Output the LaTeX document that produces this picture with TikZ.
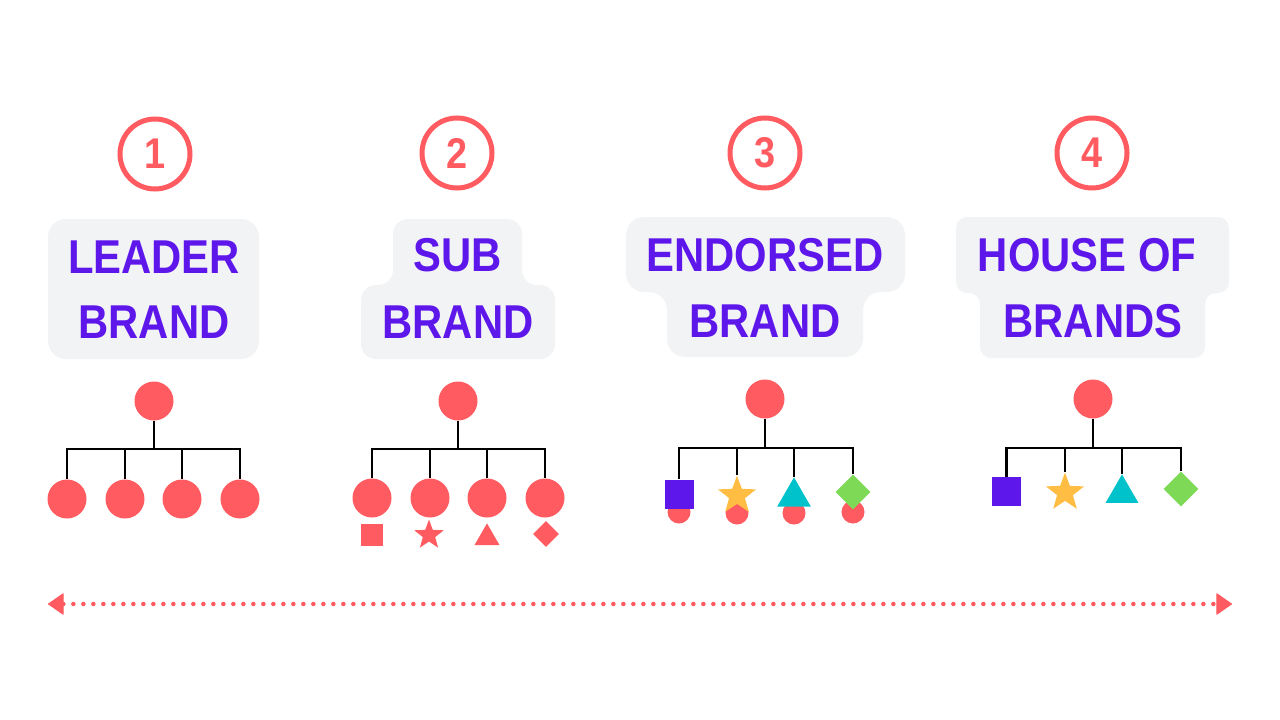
\documentclass[tikz,border=0pt]{standalone}
\usepackage{fontspec}
\usetikzlibrary{shapes.geometric,arrows.meta}
\newfontfamily\lblfont[FakeStretch=0.88]{Liberation Sans}
\definecolor{coral}{HTML}{FF5B60}
\definecolor{brandpurple}{HTML}{5E17EB}
\definecolor{boxgray}{HTML}{F2F3F5}
\definecolor{staryellow}{HTML}{FFBD43}
\definecolor{tealc}{HTML}{00C2CB}
\definecolor{greenc}{HTML}{7ED957}
\tikzset{
  numcirc/.style={circle, draw=coral, line width=5pt, minimum size=70pt, inner sep=0pt, text=coral,
    font=\lblfont\bfseries\fontsize{43}{43}\selectfont},
  lbl/.style={anchor=base, inner sep=0pt, text=brandpurple,
    font=\lblfont\bfseries\fontsize{47.5}{47.5}\selectfont},
  boxfill/.style={fill=boxgray},
  dot/.style={circle, fill=coral, minimum size=39pt, inner sep=0pt},
  smalldot/.style={circle, fill=coral, minimum size=23pt, inner sep=0pt},
  tree/.style={draw=black, line width=2.8pt},
  sq/.style={rectangle, minimum size=#1, inner sep=0pt},
  starshape/.style={star, star points=5, star point ratio=2.4, minimum size=#1, inner sep=0pt, anchor=north},
  tri/.style={regular polygon, regular polygon sides=3, minimum size=#1, inner sep=0pt, anchor=north},
  dia/.style={diamond, minimum size=#1, inner sep=0pt},
  dotline/.style={draw=coral, line width=4.5pt, line cap=round, dash pattern=on 0pt off 10pt,
    {Triangle[length=16pt,width=22pt,round,line width=1pt]}-{Triangle[length=16pt,width=22pt,round,line width=1pt]}}
}
\begin{document}
\begin{tikzpicture}[x=1pt,y=-1pt]
\useasboundingbox (0,0) rectangle (1280,720);

% number circles
\node[numcirc] (n1) at (155,154) {1};
\node[numcirc] (n2) at (457,153) {2};
\node[numcirc] (n3) at (765,153) {3};
\node[numcirc] (n4) at (1092,153) {4};

% label boxes
\fill[boxfill, rounded corners=18pt] (48,219) rectangle (259,359);
\fill[boxfill, rounded corners=15pt] (393,219) -- (522,219) -- (522,285) -- (555,285) -- (555,359)
  -- (361,359) -- (361,285) -- (393,285) -- cycle;
\fill[boxfill, rounded corners=18pt] (626,217) -- (905,217) -- (905,292) -- (863,292) -- (863,357)
  -- (667,357) -- (667,292) -- (626,292) -- cycle;
\fill[boxfill, rounded corners=11pt] (956,217) -- (1229,217) -- (1229,293) -- (1205,293) -- (1205,358)
  -- (980,358) -- (980,293) -- (956,293) -- cycle;

% labels
\node[lbl] (t1a) at (154,273) {LEADER};
\node[lbl] (t1b) at (154,338) {BRAND};
\node[lbl] (t2a) at (458,271) {SUB};
\node[lbl] (t2b) at (458,338) {BRAND};
\node[lbl] (t3a) at (765,271) {ENDORSED};
\node[lbl] (t3b) at (765,337) {BRAND};
\node[lbl] (t4a) at (1087,271) {HOUSE OF};
\node[lbl] (t4b) at (1093,337) {BRANDS};

% ---- column 1
\node[dot] (r1) at (154,401) {};
\node[dot] (c11) at (67,499) {};
\node[dot] (c12) at (125,499) {};
\node[dot] (c13) at (182,499) {};
\node[dot] (c14) at (240,499) {};
\coordinate (bus1) at (154,449);
\draw[tree] (r1) -- (bus1);
\draw[tree] (c11.north) |- (c14.north |- bus1) -- (c14.north);
\draw[tree] (c12.north) -- (c12.north |- bus1);
\draw[tree] (c13.north) -- (c13.north |- bus1);

% ---- column 2
\node[dot] (r2) at (458,401) {};
\node[dot] (c21) at (372,498) {};
\node[dot] (c22) at (430,498) {};
\node[dot] (c23) at (487,498) {};
\node[dot] (c24) at (545,498) {};
\coordinate (bus2) at (458,449);
\draw[tree] (r2) -- (bus2);
\draw[tree] (c21.north) |- (c24.north |- bus2) -- (c24.north);
\draw[tree] (c22.north) -- (c22.north |- bus2);
\draw[tree] (c23.north) -- (c23.north |- bus2);
\node[sq=22pt, fill=coral] (s21) at (372,535) {};
\node[starshape=31pt, fill=coral] (s22) at (429,519) {};
\node[tri=29pt, fill=coral] (s23) at (487,523) {};
\node[dia=26pt, fill=coral] (s24) at (546,534) {};

% ---- column 3
\node[dot] (r3) at (765,399) {};
\node[smalldot] (d31) at (679,512) {};
\node[smalldot] (d32) at (737,513) {};
\node[smalldot] (d33) at (794,513) {};
\node[smalldot] (d34) at (853,512) {};
\node[sq=29pt, fill=brandpurple] (c31) at (679,494) {};
\node[starshape=40pt, fill=staryellow] (c32) at (737,475) {};
\node[tri=39pt, fill=tealc] (c33) at (794,477) {};
\node[dia=35pt, fill=greenc] (c34) at (853,492) {};
\coordinate (bus3) at (765,448);
\draw[tree] (r3) -- (bus3);
\draw[tree] (c31.north) |- (c34.north |- bus3) -- (c34.north);
\draw[tree] (c32.north) -- (c32.north |- bus3);
\draw[tree] (c33.north) -- (c33.north |- bus3);

% ---- column 4
\node[dot] (r4) at (1093,399) {};
\node[sq=29pt, fill=brandpurple] (c41) at (1006.5,491.5) {};
\node[starshape=40pt, fill=staryellow] (c42) at (1065,472) {};
\node[tri=38pt, fill=tealc] (c43) at (1122,474) {};
\node[dia=35pt, fill=greenc] (c44) at (1181,489) {};
\coordinate (bus4) at (1093,448);
\draw[tree] (r4) -- (bus4);
\draw[tree] (c41.north) |- (c44.north |- bus4) -- (c44.north);
\draw[tree] (c42.north) -- (c42.north |- bus4);
\draw[tree] (c43.north) -- (c43.north |- bus4);

% ---- dotted double arrow
\coordinate (aL) at (48,604);
\coordinate (aR) at (1232,604);
\draw[dotline] (aL) -- (aR);
\end{tikzpicture}
\end{document}
